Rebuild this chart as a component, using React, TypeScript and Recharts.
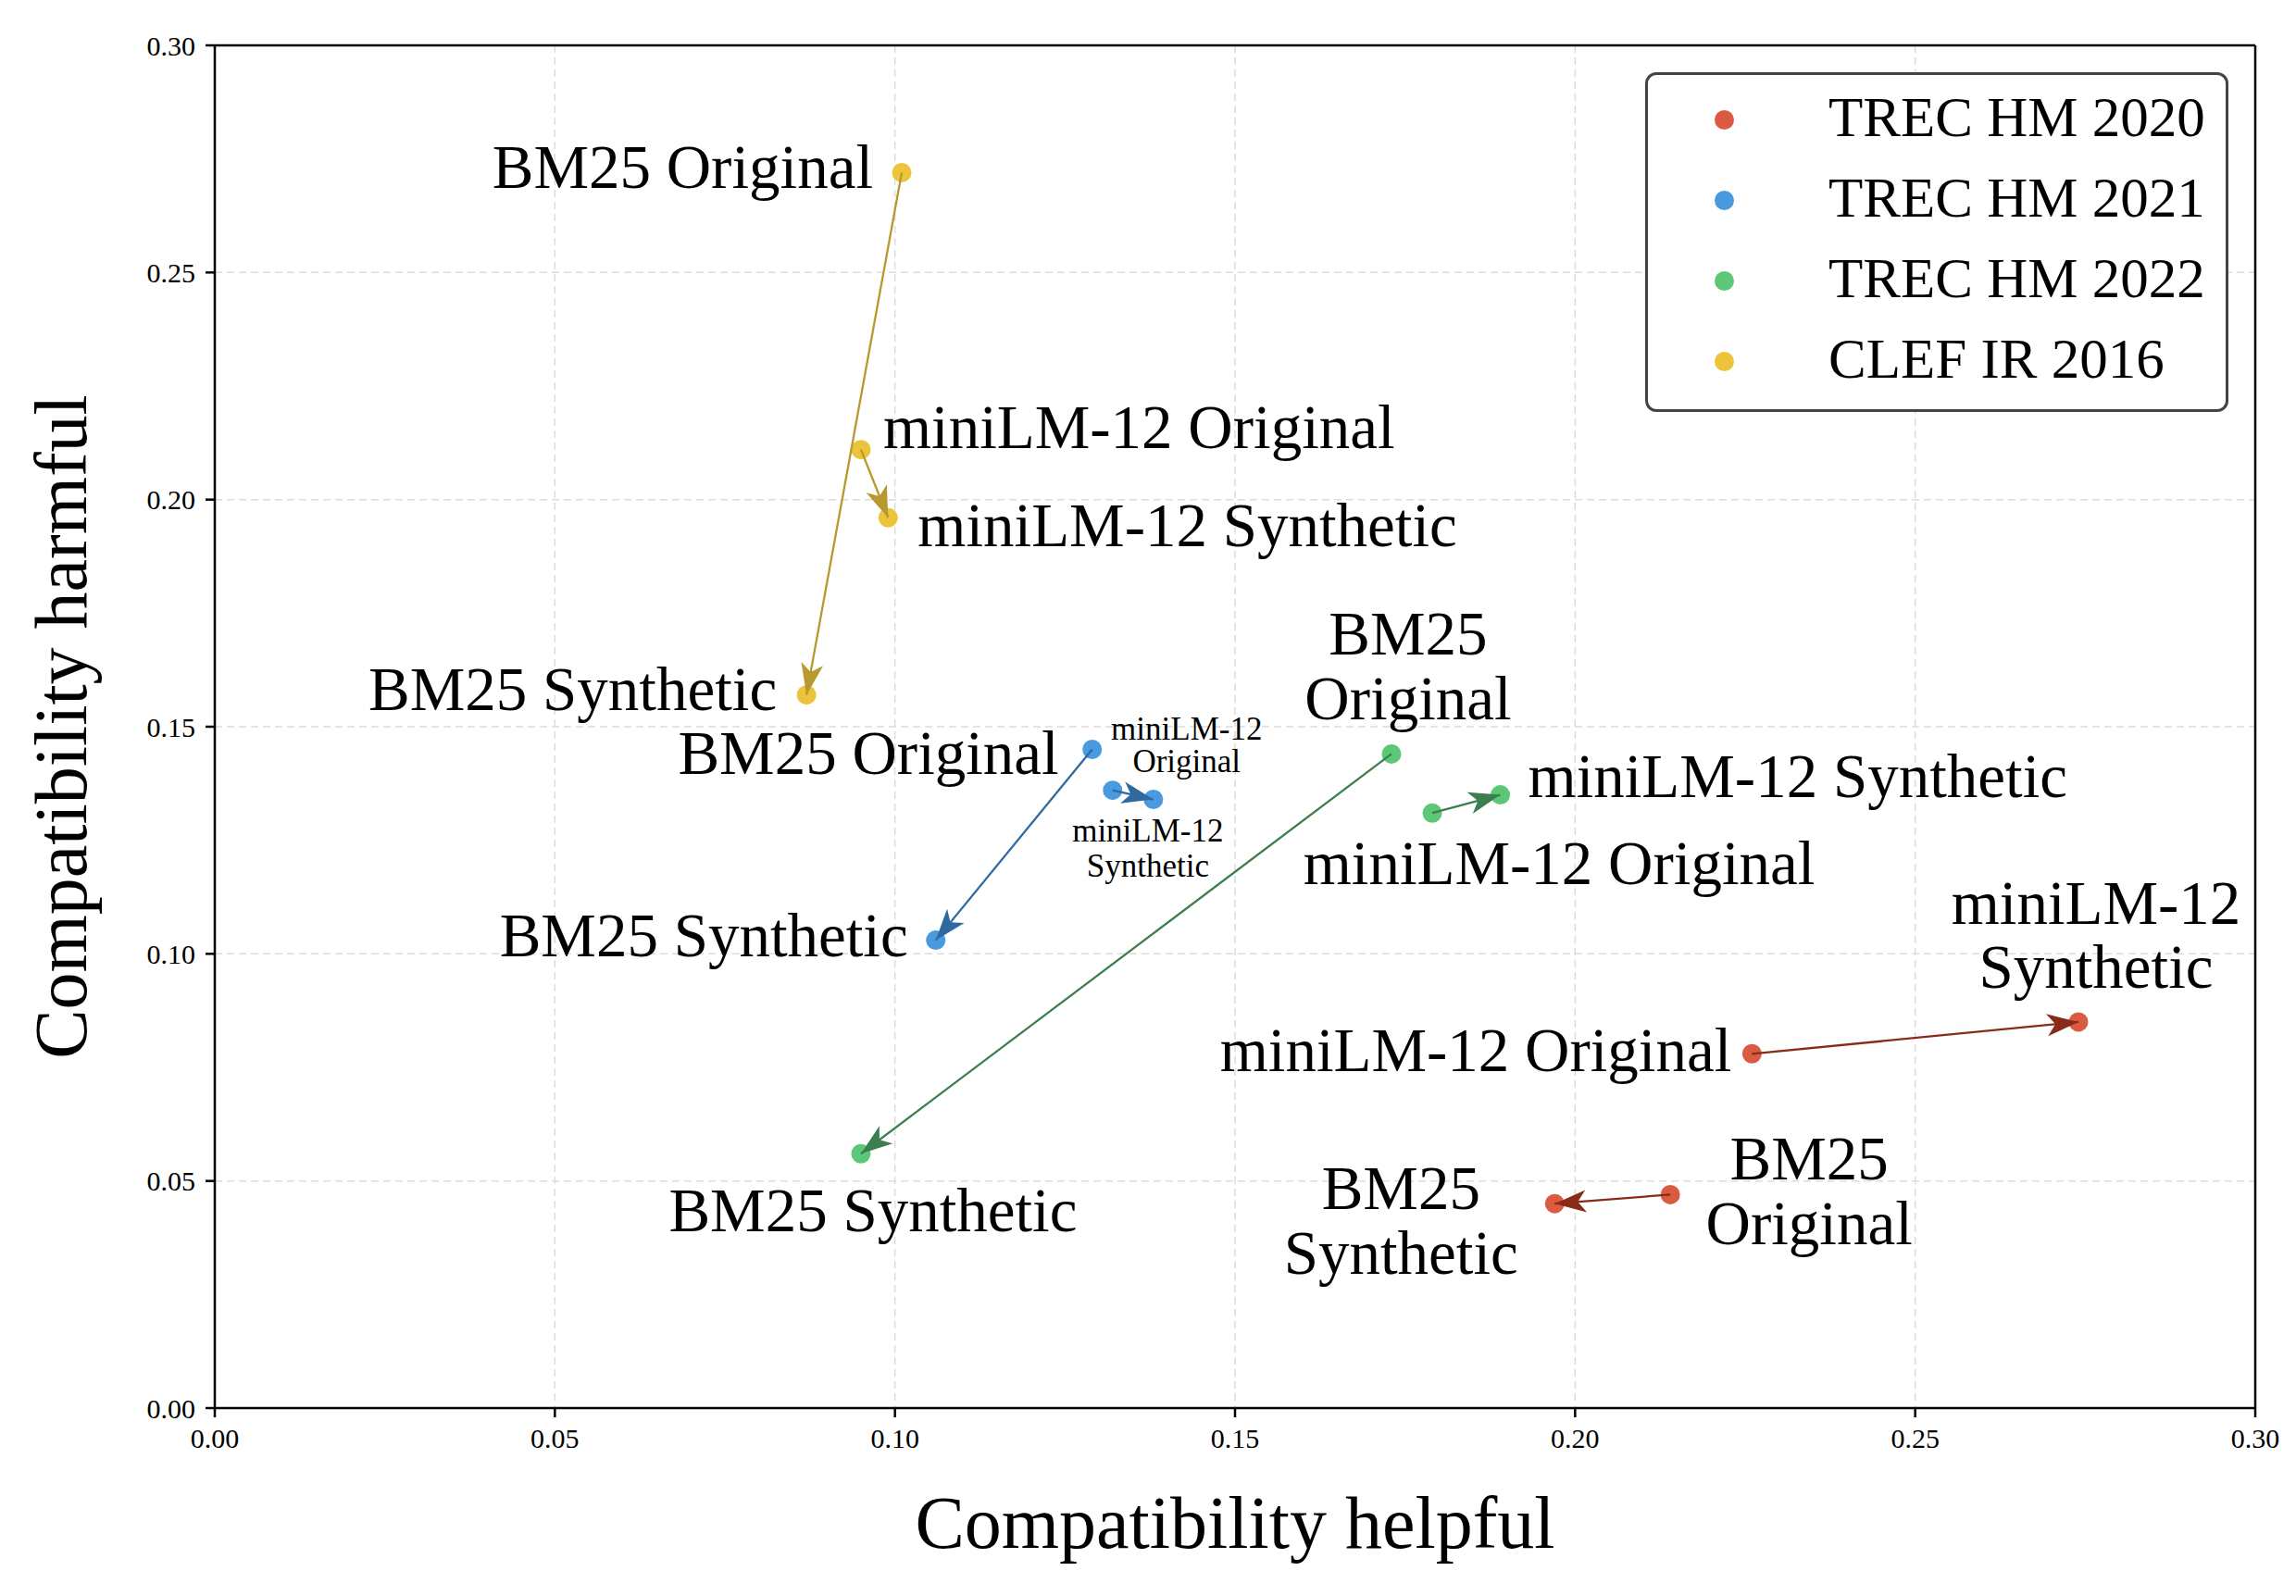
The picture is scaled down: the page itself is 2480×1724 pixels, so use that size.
import {
    CartesianGrid,
    Label,
    Legend,
    ReferenceLine,
    Scatter,
    ScatterChart,
    XAxis,
    YAxis,
} from "recharts";

// datasets (legend order) and the four runs per dataset
const groups = ["TREC HM 2020", "TREC HM 2021", "TREC HM 2022", "CLEF IR 2016"];
const methods = [
    "BM25 Original",
    "BM25 Synthetic",
    "miniLM-12 Original",
    "miniLM-12 Synthetic",
];

// compatibility helpful (x) / harmful (y), same order as `methods`
const helpful2020 = [0.214, 0.197, 0.226, 0.274];
const harmful2020 = [0.047, 0.045, 0.078, 0.085];
const helpful2021 = [0.129, 0.106, 0.132, 0.138];
const harmful2021 = [0.145, 0.103, 0.136, 0.134];
const helpful2022 = [0.173, 0.095, 0.179, 0.189];
const harmful2022 = [0.144, 0.056, 0.131, 0.135];
const helpfulClef = [0.101, 0.087, 0.095, 0.099];
const harmfulClef = [0.272, 0.157, 0.211, 0.196];

const axisTicks = [0, 0.05, 0.1, 0.15, 0.2, 0.25, 0.3];

// arrows go original -> synthetic
const arrowPairs = [
    [0, 1],
    [2, 3],
];

const dotColors = ["#db5a42", "#4a9ae0", "#5cc777", "#ebc43b"];
const arrowColors = ["#8a2a18", "#2e6aa0", "#3b7f4f", "#b8992e"];

const FONT = "'Liberation Serif', 'Times New Roman', serif";

// label placement per point (pixel offsets from the dot, baseline per line)
type LabelPos = { anchor: "start" | "middle" | "end"; dx: number; dy: number[]; small?: boolean };
const labelPos: Record<string, LabelPos> = {
    "0-0": { anchor: "middle", dx: 150, dy: [-16, 54] },
    "0-1": { anchor: "middle", dx: -166, dy: [6, 76] },
    "0-2": { anchor: "end", dx: -22, dy: [19] },
    "0-3": { anchor: "middle", dx: 19, dy: [-106, -37] },
    "1-0": { anchor: "end", dx: -36, dy: [26] },
    "1-1": { anchor: "end", dx: -30, dy: [17] },
    "1-2": { anchor: "middle", dx: 80, dy: [-55, -20], small: true },
    "1-3": { anchor: "middle", dx: -6, dy: [45, 83], small: true },
    "2-0": { anchor: "middle", dx: 18, dy: [-107, -37] },
    "2-1": { anchor: "middle", dx: 13, dy: [84] },
    "2-2": { anchor: "middle", dx: 137, dy: [77] },
    "2-3": { anchor: "start", dx: 30, dy: [2] },
    "3-0": { anchor: "end", dx: -31, dy: [17] },
    "3-1": { anchor: "end", dx: -32, dy: [16] },
    "3-2": { anchor: "start", dx: 24, dy: [-2] },
    "3-3": { anchor: "start", dx: 32, dy: [31] },
};

const helpful = [helpful2020, helpful2021, helpful2022, helpfulClef];
const harmful = [harmful2020, harmful2021, harmful2022, harmfulClef];

const series = groups.map((name, g) => ({
    name,
    points: methods.map((method, m) => ({
        x: helpful[g][m],
        y: harmful[g][m],
        method,
        key: `${g}-${m}`,
    })),
}));

const makeDot = (color: string) => (props: any) => {
    const { cx, cy, payload } = props;
    const pos = labelPos[payload.key];
    const cut = payload.method.indexOf(" ");
    const lines =
        pos.dy.length > 1
            ? [payload.method.slice(0, cut), payload.method.slice(cut + 1)]
            : [payload.method];
    return (
        <g>
            <circle cx={cx} cy={cy} r={10.5} fill={color} />
            {lines.map((t: string, i: number) => (
                <text
                    key={i}
                    x={cx + pos.dx}
                    y={cy + pos.dy[i]}
                    textAnchor={pos.anchor}
                    fontSize={pos.small ? 35 : 67}
                    fontFamily={FONT}
                    fill="#000"
                >
                    {t}
                </text>
            ))}
        </g>
    );
};

const makeArrow = (g: number) => (props: any) => {
    const [a, b] = props.points;
    return (
        <path
            d={`M${a.x},${a.y}L${b.x},${b.y}`}
            stroke={arrowColors[g]}
            strokeWidth={2.3}
            fill="none"
            markerEnd={`url(#arrow-${g})`}
        />
    );
};

const renderLegend = () => (
    <div
        style={{
            width: 630,
            height: 367,
            boxSizing: "border-box",
            border: "3px solid #444",
            borderRadius: 12,
            background: "#fff",
            paddingTop: 5,
            fontFamily: FONT,
        }}
    >
        {groups.map((name, i) => (
            <div
                key={name}
                style={{ height: 87, display: "flex", alignItems: "center" }}
            >
                <span
                    style={{
                        display: "inline-block",
                        width: 21,
                        height: 21,
                        borderRadius: "50%",
                        background: dotColors[i],
                        marginLeft: 72,
                    }}
                />
                <span
                    style={{
                        marginLeft: 102,
                        fontSize: 61,
                        lineHeight: "61px",
                        color: "#000",
                        position: "relative",
                        top: -3,
                    }}
                >
                    {name}
                </span>
            </div>
        ))}
    </div>
);

const tickStyle = { fontSize: 30, fill: "#000", fontFamily: FONT };

export default function App() {
    return (
        <div style={{ width: 2480, height: 1724, fontFamily: FONT, background: "#fff" }}>
            <style>{"body{margin:0}"}</style>
            <svg width={0} height={0} style={{ position: "absolute" }}>
                <defs>
                    {arrowColors.map((c, g) => (
                        <marker
                            key={g}
                            id={`arrow-${g}`}
                            markerUnits="userSpaceOnUse"
                            markerWidth={36}
                            markerHeight={26}
                            refX={34}
                            refY={12}
                            orient="auto"
                            overflow="visible"
                        >
                            <path d="M0,0 L34,12 L0,24 L9,12 Z" fill={c} />
                        </marker>
                    ))}
                </defs>
            </svg>
            <ScatterChart
                width={2480}
                height={1724}
                margin={{ top: 49, right: 44, bottom: 0, left: 0 }}
            >
                <CartesianGrid
                    stroke="#dcdcdc"
                    strokeDasharray="8 5"
                    strokeWidth={1.5}
                />
                <XAxis
                    type="number"
                    dataKey="x"
                    domain={[0, 0.3]}
                    ticks={axisTicks}
                    tickFormatter={(v: number) => v.toFixed(2)}
                    allowDataOverflow
                    height={203}
                    tick={tickStyle}
                    tickSize={10}
                    tickMargin={12}
                    axisLine={{ stroke: "#000", strokeWidth: 2.5 }}
                    tickLine={{ stroke: "#000", strokeWidth: 2.5 }}
                >
                    <Label
                        content={(p: any) => (
                            <text
                                x={p.viewBox.x + p.viewBox.width / 2}
                                y={1672}
                                textAnchor="middle"
                                fontSize={80}
                                fontFamily={FONT}
                                fill="#000"
                            >
                                Compatibility helpful
                            </text>
                        )}
                    />
                </XAxis>
                <YAxis
                    type="number"
                    dataKey="y"
                    domain={[0, 0.3]}
                    ticks={axisTicks}
                    tickFormatter={(v: number) => v.toFixed(2)}
                    allowDataOverflow
                    width={232}
                    tick={tickStyle}
                    tickSize={10}
                    tickMargin={11}
                    axisLine={{ stroke: "#000", strokeWidth: 2.5 }}
                    tickLine={{ stroke: "#000", strokeWidth: 2.5 }}
                >
                    <Label
                        content={(p: any) => {
                            const cy = p.viewBox.y + p.viewBox.height / 2;
                            return (
                                <text
                                    x={93}
                                    y={cy}
                                    transform={`rotate(-90 93 ${cy})`}
                                    textAnchor="middle"
                                    fontSize={80}
                                    fontFamily={FONT}
                                    fill="#000"
                                >
                                    Compatibility harmful
                                </text>
                            );
                        }}
                    />
                </YAxis>
                <ReferenceLine y={0.3} stroke="#000" strokeWidth={2.5} />
                <ReferenceLine x={0.3} stroke="#000" strokeWidth={2.5} />
                {series.map((s, g) => (
                    <Scatter
                        key={s.name}
                        name={s.name}
                        data={s.points}
                        fill={dotColors[g]}
                        shape={makeDot(dotColors[g])}
                        isAnimationActive={false}
                    />
                ))}
                {series.map((s, g) =>
                    arrowPairs.map(([from, to]) => (
                        <Scatter
                            key={`${s.name}-arrow-${from}`}
                            data={[s.points[from], s.points[to]]}
                            line={makeArrow(g)}
                            shape={() => <g />}
                            legendType="none"
                            isAnimationActive={false}
                        />
                    ))
                )}
                <Legend
                    layout="vertical"
                    align="center"
                    verticalAlign="middle"
                    content={renderLegend}
                    wrapperStyle={{ top: 78, left: 1777, width: 630, height: 367 }}
                />
            </ScatterChart>
        </div>
    );
}
